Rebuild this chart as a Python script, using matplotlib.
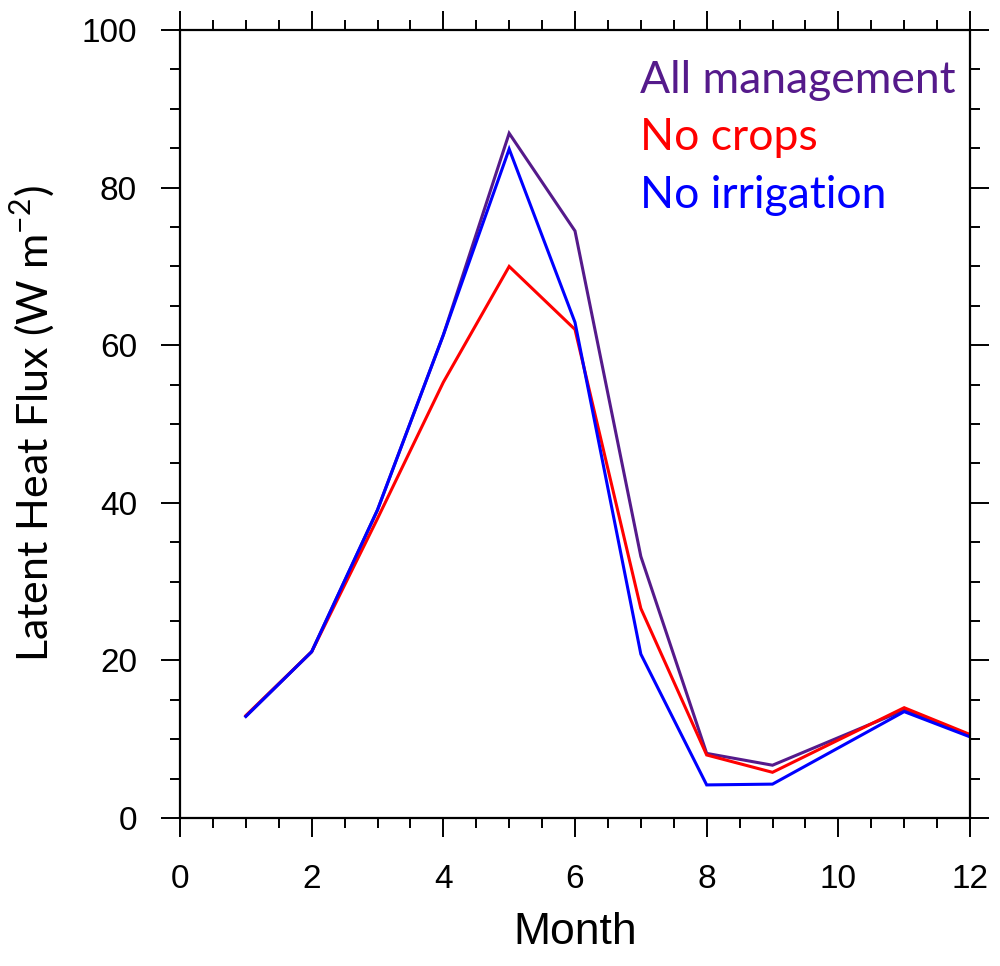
import matplotlib

matplotlib.use("Agg")
import matplotlib.pyplot as plt
from matplotlib.ticker import MultipleLocator

# Monthly latent heat flux (W m-2)
months = [1, 2, 3, 4, 5, 6, 7, 8, 9, 10, 11, 12]
all_management = [12.9, 21.1, 39.1, 61.3, 86.9, 74.5, 33.2, 8.2, 6.7, 10.2, 13.7, 10.5]
no_crops = [13.0, 21.1, 38.0, 55.3, 70.0, 62.0, 26.6, 8.0, 5.8, 9.9, 14.0, 10.6]
no_irrigation = [12.9, 21.1, 39.1, 61.3, 84.9, 62.9, 20.8, 4.2, 4.3, 8.9, 13.5, 10.3]

series_names = ["All management", "No crops", "No irrigation"]
series_colors = ["#551A8B", "#FF0000", "#0000FF"]

plt.rcParams["mathtext.fontset"] = "custom"
plt.rcParams["mathtext.rm"] = "Lato"

fig = plt.figure(figsize=(10, 9.66), dpi=100)
ax = fig.add_axes([0.18, 0.1532, 0.79, 0.8157])

for values, color in zip([all_management, no_crops, no_irrigation], series_colors):
    ax.plot(months, values, color=color, linewidth=2.2, solid_joinstyle="miter")

ax.set_xlim(0, 12)
ax.set_ylim(0, 100)
ax.xaxis.set_major_locator(MultipleLocator(2))
ax.xaxis.set_minor_locator(MultipleLocator(0.5))
ax.yaxis.set_major_locator(MultipleLocator(20))
ax.yaxis.set_minor_locator(MultipleLocator(5))

ax.tick_params(which="both", direction="out", top=True, right=True, width=1.4)
ax.tick_params(which="major", length=14, pad=17)
ax.tick_params(which="minor", length=7)
ax.tick_params(axis="x", which="major", pad=19)
for label in ax.get_xticklabels() + ax.get_yticklabels():
    label.set_fontfamily("Liberation Sans")
    label.set_fontsize(24)
for spine in ax.spines.values():
    spine.set_linewidth(1.6)

ax.set_xlabel("Month", fontfamily="Liberation Sans", fontsize=32, labelpad=12)
ax.set_ylabel("Latent Heat Flux (W m$^{\\mathregular{-2}}$)", fontfamily="Lato",
              fontsize=31, labelpad=18)

baselines = [0.920, 0.848, 0.774]
for name, color, yb in zip(series_names, series_colors, baselines):
    ax.text(0.582, yb, name, transform=ax.transAxes, color=color,
            fontfamily="Lato", fontsize=32, ha="left", va="baseline")

fig.savefig("out.png", dpi=100)
